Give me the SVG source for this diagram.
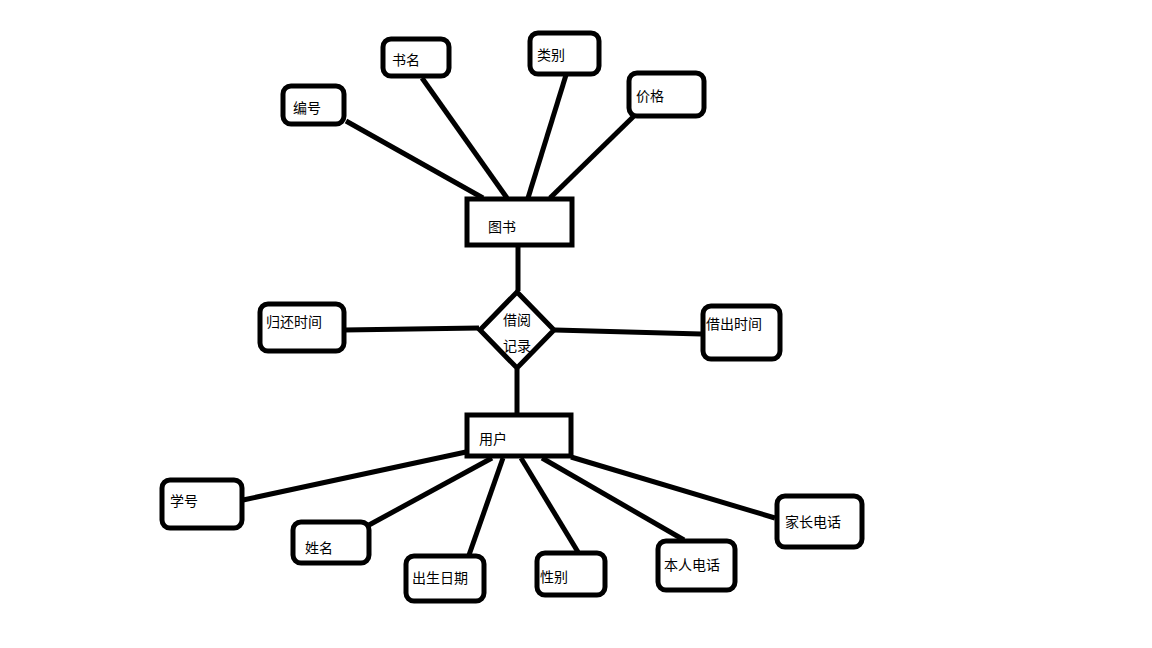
<svg xmlns="http://www.w3.org/2000/svg" width="1152" height="648" viewBox="0 0 1152 648">
<style>
.attr{fill:#fff;stroke:#000;stroke-width:5}
.ent{fill:#fff;stroke:#000;stroke-width:5}
.conn line{stroke:#000;stroke-width:5;stroke-linecap:butt}
text{font-family:"Noto Sans CJK SC","Microsoft YaHei",sans-serif;font-size:14px;fill:#000}
</style>
<rect width="1152" height="648" fill="#fff"/>
<g class="conn">
<line x1="346" y1="121" x2="483" y2="198"/>
<line x1="422" y1="78" x2="507" y2="198"/>
<line x1="566" y1="75" x2="528" y2="198"/>
<line x1="634" y1="116" x2="550" y2="198"/>
<line x1="518" y1="246" x2="518" y2="291"/>
<line x1="344" y1="330" x2="479" y2="328"/>
<line x1="555" y1="330" x2="701" y2="334"/>
<line x1="517" y1="369" x2="517" y2="414"/>
<line x1="466" y1="452" x2="243" y2="500"/>
<line x1="492" y1="458" x2="369" y2="525"/>
<line x1="503" y1="458" x2="469" y2="555"/>
<line x1="521" y1="458" x2="578" y2="552"/>
<line x1="542" y1="458" x2="684" y2="540"/>
<line x1="571" y1="457" x2="775" y2="518"/>
</g>
<g id="n-bianhao"><rect class="attr" x="283" y="86" width="61" height="38" rx="8"/><text x="293" y="113">编号</text></g>
<g id="n-shuming"><rect class="attr" x="383" y="39" width="66" height="37" rx="8"/><text x="392" y="65">书名</text></g>
<g id="n-leibie"><rect class="attr" x="530" y="33" width="69" height="41" rx="8"/><text x="537" y="60">类别</text></g>
<g id="n-jiage"><rect class="attr" x="629" y="73" width="75" height="43" rx="8"/><text x="636" y="101">价格</text></g>
<g id="n-tushu"><rect class="ent" x="467" y="199" width="105" height="46"/><text x="488" y="232">图书</text></g>
<g id="n-jieyue"><polygon class="ent" points="517,292 554,330 517,368 480,330"/><text x="503" y="325">借阅</text><text x="503" y="351">记录</text></g>
<g id="n-guihuan"><rect class="attr" x="260" y="304" width="84" height="47" rx="8"/><text x="266" y="327">归还时间</text></g>
<g id="n-jiechu"><rect class="attr" x="703" y="306" width="77" height="53" rx="8"/><text x="706" y="329">借出时间</text></g>
<g id="n-yonghu"><rect class="ent" x="467" y="415" width="104" height="41"/><text x="479" y="444">用户</text></g>
<g id="n-xuehao"><rect class="attr" x="162" y="480" width="80" height="48" rx="8"/><text x="170" y="506">学号</text></g>
<g id="n-xingming"><rect class="attr" x="293" y="522" width="76" height="41" rx="8"/><text x="305" y="553">姓名</text></g>
<g id="n-chusheng"><rect class="attr" x="406" y="556" width="78" height="45" rx="8"/><text x="412" y="583">出生日期</text></g>
<g id="n-xingbie"><rect class="attr" x="537" y="553" width="68" height="42" rx="8"/><text x="540" y="582">性别</text></g>
<g id="n-benren"><rect class="attr" x="658" y="541" width="77" height="49" rx="8"/><text x="664" y="570">本人电话</text></g>
<g id="n-jiazhang"><rect class="attr" x="777" y="496" width="85" height="51" rx="8"/><text x="785" y="527">家长电话</text></g>
</svg>
